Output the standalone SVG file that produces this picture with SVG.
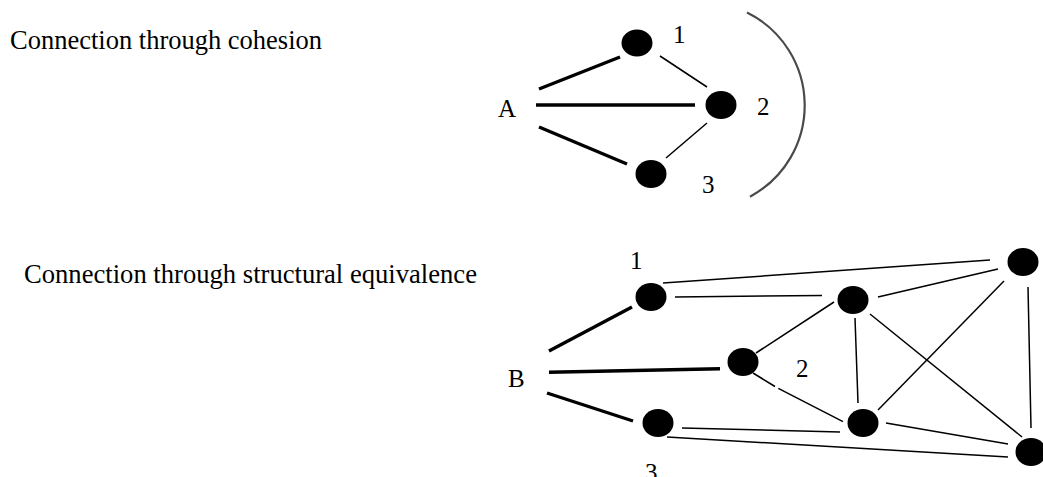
<svg xmlns="http://www.w3.org/2000/svg" width="1043" height="477" viewBox="0 0 1043 477">
<defs>
<style>
.t{font-family:"Liberation Serif","Times New Roman",serif;font-size:26.5px;fill:#000}
.l{font-family:"Liberation Serif","Times New Roman",serif;font-size:25px;fill:#000}
.n{fill:#000;filter:url(#soft)}
.thick{stroke:#000;stroke-width:3.4;fill:none}
.thin{stroke:#000;stroke-width:1.5;fill:none}
.arc{stroke:#4a4a4a;stroke-width:2.2;fill:none}
</style>
<filter id="soft" x="-20%" y="-20%" width="140%" height="140%"><feGaussianBlur stdDeviation="0.7"/></filter>
</defs>
<rect width="1043" height="477" fill="#fff"/>
<text class="t" x="10" y="49" textLength="312" lengthAdjust="spacingAndGlyphs">Connection through cohesion</text>
<text class="t" x="24" y="283" textLength="453" lengthAdjust="spacingAndGlyphs">Connection through structural equivalence</text>
<g id="connectors">
<path class="thick" d="M539,89 L620,57"/>
<path class="thick" d="M536,105 L695,105"/>
<path class="thick" d="M539,127 L627,164"/>
<path class="thin" d="M660,56 L707,87"/>
<path class="thin" d="M666,158 L707,123"/>
<path class="arc" d="M747,12.5 A103.6,103.6 0 0 1 750,196.7"/>
<path class="thick" d="M549,351 L632,307"/>
<path class="thick" d="M549,372.3 L720,368.7"/>
<path class="thick" d="M547,393 L633,421"/>
<path class="thin" d="M663,283 L990,260"/>
<path class="thin" d="M675,297 L822,295.5"/>
<path class="thin" d="M878,297 L998,269"/>
<path class="thin" d="M756,353 L834,302"/>
<path class="thin" d="M753,373 L775,386.5 M778.3,388.3 L843,421.7"/>
<path class="thin" d="M855,318 L858,403"/>
<path class="thin" d="M870,314 L1022,437"/>
<path class="thin" d="M878,410 L1004,281"/>
<path class="thin" d="M1028,287 L1031,428"/>
<path class="thin" d="M886,423 L1008,444"/>
<path class="thin" d="M682,428 L840,432"/>
<path class="thin" d="M667,437 L1008,457"/>
</g>
<g id="A"><text class="l" x="498" y="117">A</text></g>
<g id="a1"><ellipse class="n" cx="637" cy="43" rx="15.5" ry="13.5"/><text class="l" x="673" y="43">1</text></g>
<g id="a2"><ellipse class="n" cx="721" cy="105" rx="15.5" ry="14"/><text class="l" x="757" y="115">2</text></g>
<g id="a3"><ellipse class="n" cx="651" cy="174" rx="15.5" ry="14"/><text class="l" x="702" y="193">3</text></g>
<g id="B"><text class="l" x="508" y="387">B</text></g>
<g id="b1"><ellipse class="n" cx="651" cy="297" rx="15.5" ry="14"/><text class="l" x="630" y="269">1</text></g>
<g id="b2"><ellipse class="n" cx="743" cy="362" rx="15.5" ry="14"/><text class="l" x="796" y="377">2</text></g>
<g id="b3"><ellipse class="n" cx="658" cy="423" rx="15.5" ry="14"/><text class="l" x="645" y="481">3</text></g>
<g id="c"><ellipse class="n" cx="853" cy="300" rx="15.5" ry="14"/></g>
<g id="d"><ellipse class="n" cx="863" cy="423" rx="15.5" ry="14"/></g>
<g id="e"><ellipse class="n" cx="1023" cy="262" rx="15.5" ry="14"/></g>
<g id="f"><ellipse class="n" cx="1031" cy="452" rx="15.5" ry="14"/></g>
</svg>
